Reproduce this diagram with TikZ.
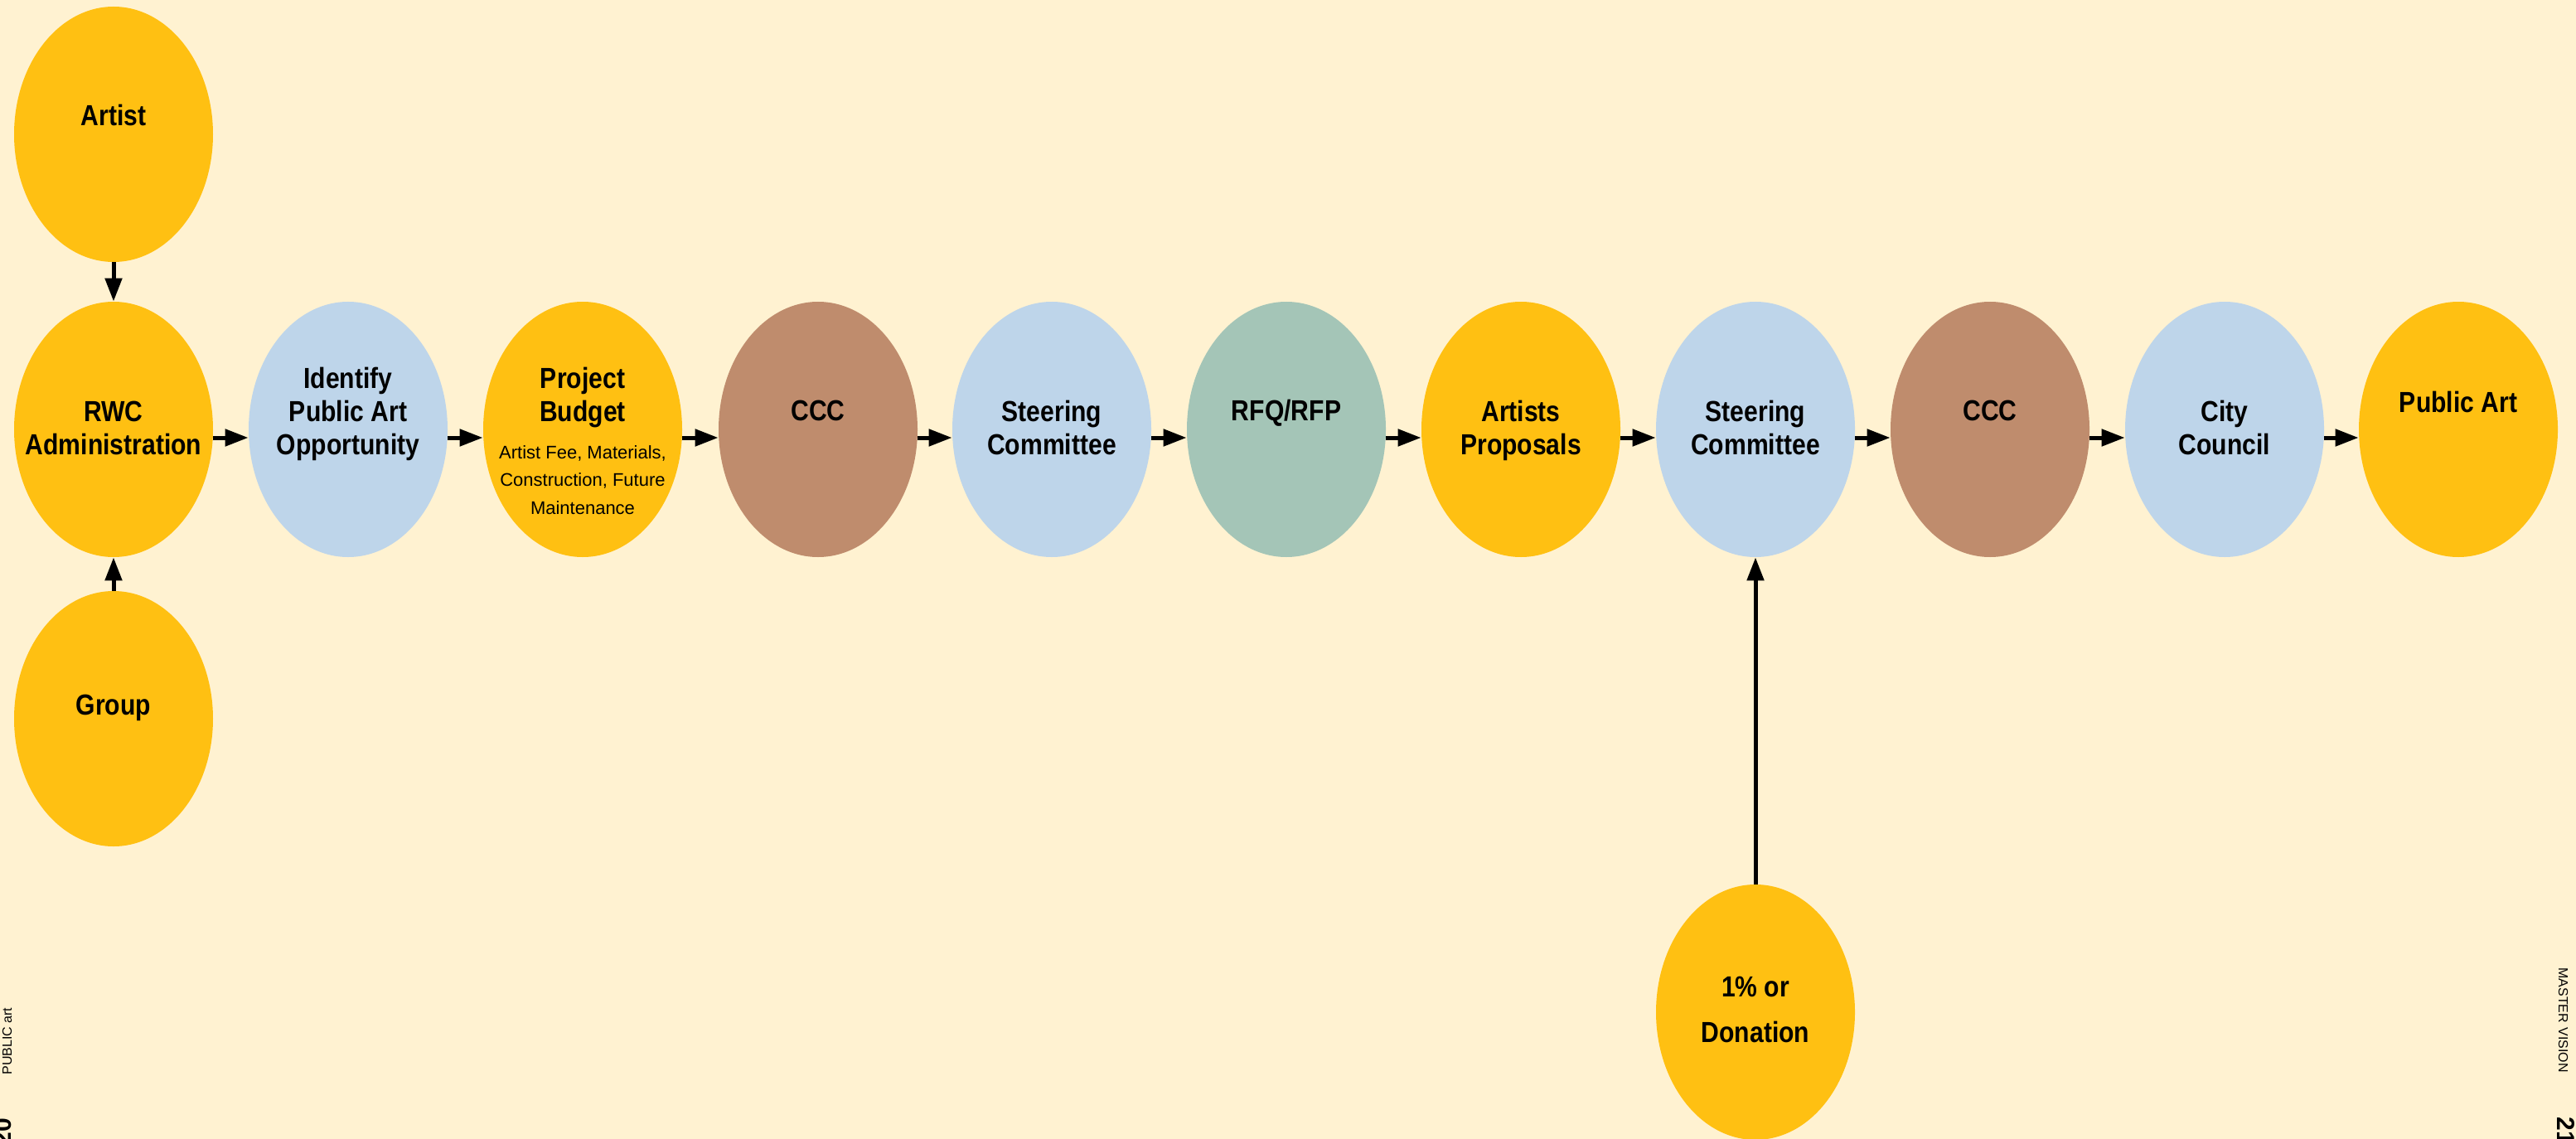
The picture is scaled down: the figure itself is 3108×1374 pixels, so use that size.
\documentclass[tikz,border=0pt]{standalone}
\usepackage{fontspec}
\setmainfont{Liberation Sans}
\newfontfamily\narrowsans{Liberation Sans}[FakeStretch=0.86]
\usetikzlibrary{arrows.meta,shapes.geometric}
\definecolor{bgcream}{HTML}{FFF2D1}
\definecolor{stageyellow}{HTML}{FFC012}
\definecolor{stageblue}{HTML}{BED5EA}
\definecolor{stagebrown}{HTML}{BF8C6D}
\definecolor{stagegreen}{HTML}{A4C5B7}
\newcommand{\mlines}[1]{\begin{tabular}[t]{@{}c@{}}#1\end{tabular}}
\tikzset{
  bubble/.style={ellipse, draw=none, inner sep=0pt, minimum width=120pt, minimum height=154pt},
  yel/.style={bubble, fill=stageyellow},
  blu/.style={bubble, fill=stageblue},
  brn/.style={bubble, fill=stagebrown},
  grn/.style={bubble, fill=stagegreen},
  lbl/.style={inner sep=0pt, anchor=base, font=\narrowsans\bfseries\fontsize{17.5}{20}\selectfont},
  smalllbl/.style={inner sep=0pt, anchor=base, font=\fontsize{11}{16.75}\selectfont},
  arr/.style={line width=2.5pt, -{Triangle[length=14pt,width=10pt]}},
  sidetxt/.style={inner sep=0pt, anchor=base west, font=\fontsize{8}{9.6}\selectfont},
  pagenum/.style={inner sep=0pt, anchor=base west, font=\bfseries\fontsize{15}{18}\selectfont},
}
\begin{document}
\begin{tikzpicture}[x=0.5pt, y=-0.5pt]
\useasboundingbox (0,0) rectangle (3108,1374);
\fill[bgcream] (0,0) rectangle (3108,1374);
\begin{scope}
\clip (0,0) rectangle (3108,1374);
% left column
\node[yel] (artist) at (137,162) {};
\node[yel] (rwc) at (137,518) {};
\node[yel] (group) at (137,867) {};
% main row
\node[blu] (ident) at (420,518) {};
\node[yel] (budget) at (703,518) {};
\node[brn] (ccca) at (987,518) {};
\node[blu] (steera) at (1269,518) {};
\node[grn] (rfq) at (1552,518) {};
\node[yel] (props) at (1835,518) {};
\node[blu] (steerb) at (2118,518) {};
\node[brn] (cccb) at (2401,518) {};
\node[blu] (council) at (2684,518) {};
\node[yel] (pubart) at (2966,518) {};
% bottom
\node[yel] (donation) at (2118,1221) {};

% labels
\node[lbl] (t-artist) at (137,152) {Artist};
\node[lbl] (t-rwc) at (137,508) {\mlines{RWC\\Administration}};
\node[lbl] (t-group) at (137,862) {Group};
\node[lbl] (t-ident) at (420,468) {\mlines{Identify\\Public Art\\Opportunity}};
\node[lbl] (t-budget) at (703,468) {\mlines{Project\\Budget}};
\node[smalllbl] (t-budgetsub) at (703,553) {\mlines{Artist Fee, Materials,\\Construction, Future\\Maintenance}};
\node[lbl] (t-ccca) at (987,507) {CCC};
\node[lbl] (t-steera) at (1269,508) {\mlines{Steering\\Committee}};
\node[lbl] (t-rfq) at (1552,507) {RFQ/RFP};
\node[lbl] (t-props) at (1835,508) {\mlines{Artists\\Proposals}};
\node[lbl] (t-steerb) at (2118,508) {\mlines{Steering\\Committee}};
\node[lbl] (t-cccb) at (2401,507) {CCC};
\node[lbl] (t-council) at (2684,508) {\mlines{City\\Council}};
\node[lbl] (t-pubart) at (2966,497) {Public Art};
\node[lbl, font=\narrowsans\bfseries\fontsize{17.5}{27.5}\selectfont] (t-donation) at (2118,1202) {\mlines{1\% or\\Donation}};

% connectors
\draw[arr] (artist.south) -- (rwc.north);
\draw[arr] (group.north) -- (rwc.south);
\draw[arr] ([yshift=-5pt]rwc.east) -- ([yshift=-5pt]ident.west);
\draw[arr] ([yshift=-5pt]ident.east) -- ([yshift=-5pt]budget.west);
\draw[arr] ([yshift=-5pt]budget.east) -- ([yshift=-5pt]ccca.west);
\draw[arr] ([yshift=-5pt]ccca.east) -- ([yshift=-5pt]steera.west);
\draw[arr] ([yshift=-5pt]steera.east) -- ([yshift=-5pt]rfq.west);
\draw[arr] ([yshift=-5pt]rfq.east) -- ([yshift=-5pt]props.west);
\draw[arr] ([yshift=-5pt]props.east) -- ([yshift=-5pt]steerb.west);
\draw[arr] ([yshift=-5pt]steerb.east) -- ([yshift=-5pt]cccb.west);
\draw[arr] ([yshift=-5pt]cccb.east) -- ([yshift=-5pt]council.west);
\draw[arr] ([yshift=-5pt]council.east) -- ([yshift=-5pt]pubart.west);
\draw[arr] (donation.north) -- (steerb.south);

% page margins
\node[sidetxt, rotate=90] (side-left) at (14,1297) {PUBLIC art};
\node[pagenum, rotate=90] (page-left) at (13,1383) {20};
\node[sidetxt, rotate=-90] (side-right) at (3087,1167) {MASTER\hspace{0.35em}VISION};
\node[pagenum, rotate=-90] (page-right) at (3085,1347) {21};
\end{scope}
\end{tikzpicture}
\end{document}
